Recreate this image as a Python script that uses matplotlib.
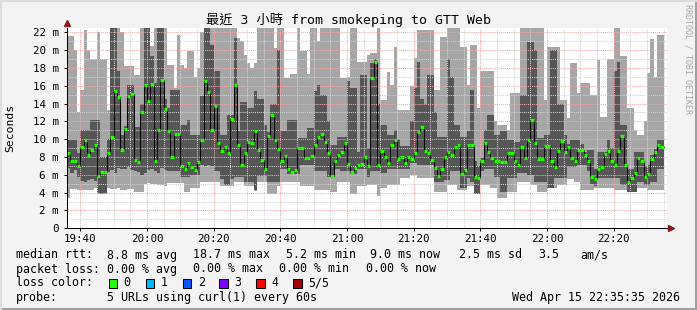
import numpy as np
import matplotlib
matplotlib.use("Agg")
import matplotlib.pyplot as plt
from matplotlib.patches import Rectangle

# one sample per minute, starting 19:36
med = [8.5, 7.6, 7.6, 7.0, 9.1, 9.9, 8.2, 8.8, 9.4, 5.9, 6.3, 6.3, 8.4, 10.2, 15.4, 14.7, 8.8, 11.1, 14.9, 15.1,
       7.7, 7.4, 13.0, 16.1, 14.3, 16.2, 7.6, 11.0, 16.6, 13.4,
       10.9, 8.0, 10.6, 10.6, 7.0, 6.6, 7.3, 6.9, 6.5, 7.4, 9.9, 16.5, 15.3, 11.0, 13.7, 9.6, 8.7, 9.1, 8.4, 12.3,
       16.1, 9.4, 7.1, 8.4, 9.7, 9.6, 10.9, 8.8, 7.7, 6.7,
       10.4, 12.7, 9.9, 8.9, 7.5, 8.1, 6.7, 6.3, 6.5, 9.0, 9.0, 7.9, 7.9, 8.1, 9.4, 10.3, 10.6, 9.7, 8.4, 5.9,
       7.6, 8.2, 8.6, 9.6, 7.2, 6.3, 6.8, 7.1, 7.2, 8.0,
       7.0, 16.9, 18.7, 7.1, 8.7, 8.0, 7.3, 9.4, 9.9, 7.8, 8.0, 7.3, 8.0, 7.8, 8.5, 10.8, 11.4, 8.7, 8.4, 7.7,
       6.8, 5.9, 6.7, 8.0, 8.6, 8.2, 9.1, 9.4, 6.1, 6.5,
       9.4, 9.3, 5.8, 5.6, 7.5, 9.6, 8.6, 7.9, 7.6, 7.6, 7.4, 7.4, 8.4, 8.5, 7.5, 7.1, 9.1, 7.9, 9.9, 12.1,
       9.6, 7.8, 7.8, 9.2, 9.2, 7.5, 6.9, 8.7, 9.8, 8.6,
       9.1, 7.9, 7.6, 8.8, 8.8, 8.2, 7.6, 5.8, 5.5, 6.7, 6.9, 8.3, 8.7, 7.5, 7.1, 8.7, 10.4, 7.1, 5.2, 5.6,
       6.2, 7.9, 7.6, 5.8, 6.1, 7.8, 8.6, 9.3, 9.1]

# inner smoke band (dark)
dlo = [6.8, 6.2, 6.5, 5.8, 5.3, 5.2, 5.4, 5.5, 5.3, 4.0, 3.9, 4.0, 6.3, 6.5, 6.2, 6.8, 6.7, 6.6, 6.9, 6.5,
       6.4, 6.3, 6.0, 6.2, 6.5, 6.6, 6.4, 6.2, 6.8, 6.5,
       6.4, 6.4, 6.4, 6.4, 5.8, 5.8, 5.8, 6.0, 6.0, 6.0, 7.1, 7.0, 7.1, 7.0, 6.4, 6.4, 5.5, 4.9, 4.9, 5.5,
       5.8, 5.8, 5.8, 5.2, 5.2, 5.2, 4.3, 5.9, 5.9, 5.9,
       5.2, 5.2, 5.2, 5.2, 6.7, 6.7, 6.1, 6.1, 6.1, 6.1, 7.1, 7.1, 7.1, 7.1, 6.4, 6.4, 6.4, 6.4, 5.8, 5.8,
       6.7, 6.7, 6.4, 6.4, 6.4, 6.1, 6.1, 6.7, 6.7, 6.7,
       5.8, 6.4, 6.4, 6.4, 6.2, 6.2, 6.7, 6.7, 6.7, 6.7, 6.6, 6.6, 6.6, 7.3, 7.3, 7.1, 7.1, 7.1, 7.1, 7.1,
       5.2, 5.2, 5.2, 5.4, 5.4, 6.4, 6.4, 6.4, 4.5, 4.5,
       5.6, 5.2, 3.9, 3.9, 6.4, 6.7, 6.7, 6.7, 5.8, 5.8, 4.1, 4.1, 5.6, 5.6, 5.6, 6.2, 6.2, 6.2, 6.0, 6.0,
       5.2, 5.2, 5.2, 5.2, 4.5, 4.5, 5.6, 5.6, 5.6, 5.6,
       6.9, 6.9, 6.9, 7.1, 7.1, 7.1, 6.4, 5.0, 4.7, 5.6, 5.6, 5.6, 5.6, 5.6, 5.6, 5.6, 4.9, 4.9, 4.1, 4.1,
       4.1, 5.2, 5.2, 4.9, 4.9, 5.2, 5.2, 6.7, 6.7]
dhi = [9.9, 9.9, 9.9, 8.5, 11.0, 11.0, 11.0, 12.2, 12.2, 12.2, 8.0, 8.0, 10.0, 25, 25, 17.6, 10.5, 11.5, 16.1, 16.1,
       11.4, 11.4, 14.0, 25, 25, 19.3, 16.3, 25, 25, 14.5,
       13.5, 15.5, 15.5, 15.5, 11.6, 11.6, 12.2, 10.5, 10.5, 10.5, 14.8, 25, 25, 20.6, 17.6, 17.6, 10.5, 10.5, 12.7, 12.7,
       21.3, 10.9, 14.2, 14.2, 13.5, 13.5, 15.4, 14.5, 14.5, 11.6,
       10.8, 14.0, 14.0, 20.0, 10.9, 10.9, 12.2, 12.2, 12.2, 10.1, 10.1, 10.1, 11.2, 11.2, 15.4, 16.1, 15.0, 15.0, 12.0, 9.4,
       9.4, 10.3, 10.3, 10.3, 16.5, 15.7, 15.7, 8.6, 17.2, 17.2,
       9.0, 18.5, 19.0, 14.0, 11.6, 11.6, 10.5, 10.5, 11.0, 10.0, 9.2, 9.2, 9.2, 12.0, 15.7, 18.7, 14.5, 14.0, 17.2, 17.2,
       13.0, 10.3, 10.3, 10.3, 19.0, 17.0, 11.6, 11.6, 10.3, 10.3,
       10.9, 15.5, 7.5, 7.0, 7.9, 11.0, 12.7, 12.7, 10.5, 10.5, 10.9, 10.9, 9.9, 9.9, 9.7, 9.7, 15.0, 15.0, 20.9, 20.9,
       20.0, 10.1, 10.1, 10.5, 10.5, 20.0, 20.0, 13.9, 13.9, 10.5,
       9.5, 9.9, 9.9, 9.9, 9.5, 8.6, 8.8, 8.8, 6.7, 8.6, 8.6, 8.6, 9.9, 9.0, 17.6, 18.7, 11.6, 11.6, 6.7, 6.7,
       8.6, 8.6, 8.6, 7.0, 7.1, 8.2, 8.9, 9.9, 9.9]

# outer smoke band (light)
lmin = [3.4, 4.4, 4.4, 4.3, 4.3, 4.3, 4.3, 4.3, 4.5, 3.9, 3.9, 3.9, 4.5, 4.4, 4.4, 4.5, 4.3, 4.3, 4.4, 4.4,
        4.1, 4.1, 4.1, 5.0, 5.1, 5.0, 5.0, 4.9, 4.9, 4.8,
        5.1, 5.1, 5.1, 5.1, 5.1, 4.1, 4.1, 4.5, 4.5, 4.5, 5.2, 5.2, 5.2, 5.2, 5.2, 5.2, 4.8, 4.8, 4.8, 4.8,
        5.2, 5.2, 5.2, 4.8, 4.8, 4.8, 4.2, 5.2, 5.2, 5.2,
        3.9, 3.9, 3.9, 4.7, 5.2, 5.2, 5.2, 5.2, 5.2, 5.2, 4.8, 4.8, 4.8, 4.8, 4.3, 4.3, 4.3, 4.3, 4.3, 4.1,
        4.1, 5.2, 5.2, 5.2, 5.2, 3.9, 3.9, 4.8, 4.8, 4.8,
        4.9, 4.9, 4.9, 3.6, 4.5, 4.5, 4.9, 4.9, 4.9, 4.9, 5.6, 5.6, 5.6, 6.0, 6.0, 5.6, 5.6, 5.6, 5.6, 5.6,
        4.1, 4.1, 4.1, 4.1, 4.9, 4.9, 4.9, 4.3, 4.3, 4.3,
        4.7, 4.7, 3.9, 3.9, 4.9, 4.9, 4.9, 4.5, 4.5, 3.4, 3.4, 3.4, 4.1, 4.1, 4.1, 5.2, 5.2, 5.2, 5.2, 4.9,
        4.9, 4.1, 4.1, 4.1, 4.5, 4.5, 4.5, 4.9, 4.9, 4.9,
        5.5, 5.5, 5.2, 5.2, 4.3, 4.3, 4.3, 4.3, 4.5, 4.5, 4.5, 4.5, 4.5, 4.5, 4.3, 4.3, 4.3, 4.3, 4.1, 4.1,
        4.1, 4.5, 4.5, 4.5, 4.3, 4.3, 4.3, 4.3, 4.3]
lmax = [21.6, 21.6, 20.0, 13.0, 15.5, 22.3, 20.0, 19.0, 19.0, 22.0, 19.0, 19.0, 13.3, 25, 25, 25, 22.0, 18.2, 18.2, 18.2,
        17.2, 17.2, 25, 25, 25, 20.5, 25, 25, 25, 25,
        18.3, 18.3, 15.7, 21.7, 18.3, 18.0, 19.9, 19.9, 17.0, 18.0, 22.0, 25, 25, 25, 25, 25, 25, 25, 25, 25,
        25, 21.3, 21.0, 19.5, 18.5, 18.0, 18.5, 25, 25, 25,
        25, 25, 20.2, 25, 25, 16.9, 16.9, 17.3, 17.3, 25, 19.9, 19.9, 17.3, 25, 25, 21.0, 25, 25, 25, 25,
        25, 25, 16.9, 16.9, 17.0, 25, 25, 18.7, 18.7, 18.7,
        19.5, 19.7, 19.7, 25, 14.4, 14.4, 17.5, 16.1, 20.4, 13.3, 13.3, 13.3, 13.3, 16.0, 19.1, 22.2, 22.2, 22.2, 22.2, 22.2,
        15.5, 15.5, 21.5, 21.5, 25, 25, 25, 25, 20.3, 20.3,
        16.1, 20.6, 20.6, 13.5, 17.6, 17.6, 17.6, 17.6, 12.0, 11.6, 11.6, 11.6, 11.0, 15.2, 15.2, 15.2, 25, 25, 25, 25,
        25, 25, 25, 14.4, 20.4, 20.4, 20.4, 20.4, 14.4, 14.4,
        12.4, 18.5, 18.5, 15.2, 16.3, 16.3, 16.3, 15.0, 15.0, 18.9, 12.5, 12.5, 19.0, 19.0, 25, 25, 19.3, 19.3, 13.5, 13.5,
        11.0, 10.5, 10.5, 12.0, 17.4, 21.2, 17.0, 21.7, 21.7]

xtick_labels = ["19:40", "20:00", "20:20", "20:40", "21:00", "21:20", "21:40", "22:00", "22:20"]
ytick_vals = [0, 2, 4, 6, 8, 10, 12, 14, 16, 18, 20, 22]
loss_labels = ["0", "1", "2", "3", "4", "5/5"]
loss_colors = ["#26ff00", "#00b8ff", "#0059ff", "#7e00ff", "#ff0000", "#a10000"]

W, H = 697, 310
MONO = "DejaVu Sans Mono"

fig = plt.figure(figsize=(W / 100, H / 100), dpi=100, facecolor="#f3f3f3")
ax = fig.add_axes([67 / W, (H - 228.3) / H, 600 / W, 200.5 / H])
ax.set_facecolor("white")
ax.set_xlim(0, 180)
ax.set_ylim(0, 22.5)

x = np.arange(len(med))
xe = np.append(x, x[-1] + 1)
def ext(a):
    return np.append(a, a[-1])

ax.fill_between(xe, ext(lmin), ext(lmax), step="post", color="#a6a6a6", lw=0, zorder=1)
ax.fill_between(xe, ext(dlo), ext(dhi), step="post", color="#565656", lw=0, zorder=2)

# rrdtool style grid, drawn above the smoke
dots = (0, (1, 1))
for v in range(1, 23):
    c = "#f0aaaa" if v % 2 == 0 else "#d2d2d2"
    ax.axhline(v, color=c, ls=dots, lw=0.75, zorder=3)
xticks = [4 + 20 * i for i in range(len(xtick_labels))]
for m in range(4, 180, 5):
    c = "#f0aaaa" if m in xticks else "#d2d2d2"
    ax.axvline(m, color=c, ls=dots, lw=0.75, zorder=3)

# median line
ax.step(xe, ext(med), where="post", color="black", lw=0.75, zorder=4)
ax.hlines(med, x, x + 1, color=loss_colors[0], lw=2.3, zorder=5)

ax.set_xticks(xticks)
ax.set_xticklabels(xtick_labels, family=MONO, fontsize=7.8)
ax.set_yticks(ytick_vals)
ax.set_yticklabels(["0" if v == 0 else "%d m" % v for v in ytick_vals], family=MONO, fontsize=7.8)
ax.tick_params(axis="y", length=2, width=0.7, color="black", pad=4)
ax.tick_params(axis="x", length=2, width=0.7, color="black", pad=2)
for s in ["top", "right"]:
    ax.spines[s].set_visible(False)
for s in ["left", "bottom"]:
    ax.spines[s].set_linewidth(0.75)
    ax.spines[s].set_zorder(6)
ax.plot([181.2], [0], marker=">", ms=5, color="#8b1a1a", clip_on=False, zorder=7)
ax.plot([0], [23.0], marker="^", ms=5, color="#8b1a1a", clip_on=False, zorder=7)

# title and side labels
fig.text(349 / W, (H - 20) / H, "最近 3 小時 from smokeping to GTT Web", ha="center", va="center",
         fontsize=9.5, family=[MONO, "Noto Sans CJK TC"])
fig.text(10 / W, (H - 128) / H, "Seconds", rotation=90, ha="center", va="center", fontsize=8.2, family=MONO)
fig.text(688 / W, (H - 4) / H, "RRDTOOL / TOBI OETIKER", rotation=270, ha="center", va="top",
         fontsize=6, family=MONO, color="#a8a8a8")

# legend
def put(xp, yp, s, **kw):
    fig.text(xp / W, (H - yp) / H, s, ha="left", va="center", fontsize=8.4, family=MONO, **kw)

y1, y2, y3, y4 = 255, 269, 283, 297
put(16, y1, "median rtt:")
put(107, y1, "8.8 ms avg")
put(193, y1, "18.7 ms max")
put(286, y1, "5.2 ms min")
put(370, y1, "9.0 ms now")
put(459, y1, "2.5 ms sd")
put(538, y1, "3.5")
put(580, y1, "am/s")
put(16, y2, "packet loss:")
put(107, y2, "0.00 % avg")
put(193, y2, "0.00 % max")
put(279, y2, "0.00 % min")
put(366, y2, "0.00 % now")
put(16, y3, "loss color:")
box_x = [108.5, 145.7, 182.7, 219.3, 256, 293.3]
for bx, lab, c in zip(box_x, loss_labels, loss_colors):
    fig.add_artist(Rectangle((bx / W, (H - y3 - 4.5) / H), 8.5 / W, 9 / H, transform=fig.transFigure,
                             facecolor=c, edgecolor="black", lw=0.75))
    put(bx + 15, y3, lab)
put(16, y4, "probe:")
put(107, y4, "5 URLs using curl(1) every 60s")
fig.text(680 / W, (H - y4) / H, "Wed Apr 15 22:35:35 2026", ha="right", va="center", fontsize=8.4, family=MONO)

# frame
fig.add_artist(plt.Line2D([0, 1], [1.5 / H, 1.5 / H], transform=fig.transFigure, color="#a0a0a0", lw=2.2))
fig.add_artist(plt.Line2D([1 - 1.5 / W, 1 - 1.5 / W], [0, 1], transform=fig.transFigure, color="#a0a0a0", lw=2.2))
fig.add_artist(plt.Line2D([0, 1], [1 - 1 / H, 1 - 1 / H], transform=fig.transFigure, color="#dcdcdc", lw=1.5))
fig.add_artist(plt.Line2D([1 / W, 1 / W], [0, 1], transform=fig.transFigure, color="#dcdcdc", lw=1.5))

fig.savefig("out.png", dpi=100, facecolor=fig.get_facecolor())
